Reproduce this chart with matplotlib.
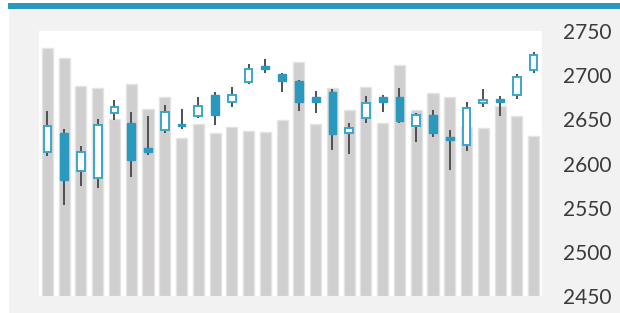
import matplotlib
matplotlib.use("Agg")
import matplotlib.pyplot as plt
from matplotlib.patches import Rectangle

# ---- data ----
days = list(range(30))
open_ = [2613, 2634, 2592, 2584, 2657, 2646, 2617, 2638, 2645, 2654,
         2677, 2670, 2692, 2710, 2701, 2693, 2675, 2681, 2635, 2651,
         2675, 2675, 2643, 2655, 2630, 2621, 2669, 2673, 2677, 2706]
high = [2659, 2639, 2620, 2650, 2672, 2658, 2654, 2666, 2662, 2675,
        2681, 2687, 2713, 2718, 2703, 2695, 2682, 2684, 2646, 2676,
        2678, 2685, 2657, 2661, 2638, 2670, 2684, 2676, 2701, 2726]
low = [2609, 2553, 2575, 2572, 2649, 2585, 2610, 2634, 2639, 2652,
       2644, 2664, 2690, 2703, 2681, 2659, 2657, 2615, 2611, 2646,
       2658, 2646, 2624, 2630, 2593, 2614, 2664, 2654, 2673, 2703]
close = [2642, 2581, 2613, 2644, 2664, 2604, 2613, 2658, 2642, 2665,
         2655, 2678, 2707, 2707, 2693, 2670, 2670, 2633, 2640, 2668,
         2670, 2648, 2655, 2635, 2627, 2663, 2672, 2670, 2698, 2723]
volume = [248, 238, 210, 208, 177, 212, 187, 199, 158, 172,
          163, 169, 165, 164, 176, 234, 172, 208, 186, 209,
          173, 231, 186, 203, 199, 169, 168, 190, 180, 160]
price_ticks = [2450, 2500, 2550, 2600, 2650, 2700, 2750]

TEAL = "#2b98bd"
BAR = "#d0cecf"
WICK = "#505050"

fig = plt.figure(figsize=(6.2, 3.13), dpi=100)
fig.patch.set_facecolor("white")
W, H = 620, 313
# gray panel and teal top band
fig.patches.append(Rectangle((9 / W, 0), 1 - 9 / W, (H - 9) / H,
                             transform=fig.transFigure, facecolor="#f2f2f2",
                             edgecolor="none", zorder=-10))
fig.patches.append(Rectangle((8 / W, (H - 9) / H), 1 - 8 / W, 6 / H,
                             transform=fig.transFigure, facecolor=TEAL,
                             edgecolor="none", zorder=-10))

ax = fig.add_axes([39 / W, (H - 296) / H, (542 - 39) / W, 265 / H])
ax.set_facecolor("white")
ax.bar(days, volume, width=0.66, color=BAR, edgecolor="#e4e4e4", linewidth=1.0, zorder=1)
ax.set_ylim(0, 265)
ax.set_xlim(-0.5, 29.5)
ax.set_yticks([])
ax.set_xticks([])
for s in ax.spines.values():
    s.set_visible(False)

ax2 = ax.twinx()
ax2.set_ylim(2450, 2750)
ax2.set_xlim(-0.5, 29.5)
for s in ax2.spines.values():
    s.set_visible(False)

bw = 0.46
for d, o, h, l, c in zip(days, open_, high, low, close):
    ax2.vlines(d, l, h, color=WICK, linewidth=1.4, zorder=2)
    bottom = min(o, c)
    height = max(abs(c - o), 0.8)
    if c >= o:
        rect = Rectangle((d - bw / 2, bottom), bw, height, facecolor="white",
                         edgecolor="#3aa6cc", linewidth=1.4, zorder=3)
    else:
        rect = Rectangle((d - bw / 2, bottom), bw, height, facecolor=TEAL,
                         edgecolor=TEAL, linewidth=1.0, zorder=3)
    ax2.add_patch(rect)

ax2.set_yticks(price_ticks)
ax2.set_yticklabels([str(t) for t in price_ticks])
ax2.tick_params(axis="y", length=0, pad=15, labelsize=15, labelcolor="#3a3a3a")
for lab in ax2.get_yticklabels():
    lab.set_fontfamily("Lato")
ax2.set_xticks([])

fig.savefig("out.png", dpi=100)
